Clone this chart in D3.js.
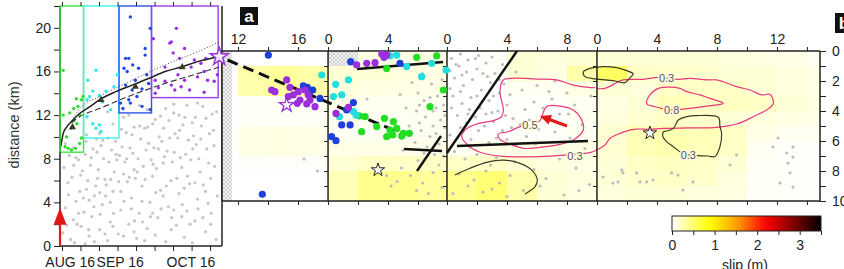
<!DOCTYPE html>
<html><head><meta charset="utf-8">
<script src="https://cdn.jsdelivr.net/npm/d3@7"></script>
<style>body{margin:0;background:#fff}svg{display:block;font-family:"Liberation Sans",Arial,sans-serif}</style>
</head><body><svg id="c" width="844" height="269"></svg>
<script>
// ---------------- DATA ----------------
const monthLabels = ["AUG 16","SEP 16","OCT 16"];
const distTicks = [0,4,8,12,16,20];
const boxStart = [0, 8.9, 22.3, 34.6];
const boxEnd = [8.9, 22.3, 34.6, 59.8];
const boxBottom = [8.6, 9.9, 12.2, 13.6];
const greyL = [[1,1.2],[2,3.5],[3,5.8],[1.5,7.2],[4,0.6],[5,2.4],[6,4.1],[4.5,6.3],[7,7.9],[8,1.8],[9,3.1],[10,5.2],[8.5,6.9],[11,0.9],[12,2.7],[13,4.6],[11.5,7.4],[14,8.6],[15,1.5],[16,3.8],[17,6.1],[15.5,9.2],[18,0.5],[19,2.2],[20,5.0],[18.5,7.7],[21,9.6],[22,1.1],[23,3.3],[24,6.6],[22.5,8.3],[25,10.4],[26,2.0],[27,4.4],[28,7.0],[26.5,9.0],[29,0.7],[30,3.0],[31,5.5],[29.5,8.0],[32,10.8],[33,1.6],[34,4.0],[35,6.4],[33.5,9.4],[36,11.6],[37,2.6],[38,5.1],[39,7.6],[37.5,10.0],[40,0.4],[41,3.6],[42,6.0],[40.5,8.7],[43,12.2],[44,1.9],[45,4.8],[46,7.2],[44.5,9.9],[47,0.8],[48,3.2],[49,5.7],[47.5,8.4],[50,11.3],[51,2.3],[52,4.3],[53,6.8],[51.5,9.3],[54,12.8],[55,1.3],[56,3.9],[57,6.2],[55.5,8.9],[58,10.6],[59,0.6],[59.5,4.6],[58.5,7.3],[6,8.1],[7.5,5.0],[9.5,8.4],[10.5,6.0],[12.5,8.9],[13.5,5.5],[14.5,7.0],[16.5,8.0],[17.5,5.6],[19.5,8.8],[20.5,6.8],[21.5,7.9],[23.5,9.1],[24.5,7.7],[25.5,5.9],[27.5,8.5],[28.5,6.2],[30.5,9.8],[31.5,7.3],[32.5,8.8],[34.5,7.9],[35.5,9.0],[36.5,7.1],[38.5,9.6],[39.5,8.2],[41.5,9.9],[42.5,7.7],[43.5,10.3],[45.5,8.1],[46.5,11.1],[48.5,9.7],[49.5,7.9],[50.5,10.1],[52.5,8.0],[53.5,11.0],[56.5,10.3],[57.5,12.1],[3.5,8.3],[2.5,1.9],[5.5,0.3],[9.5,0.2],[13,0.4],[17,1.1],[20,1.8],[24,0.9],[28,1.3],[32,0.5],[36,1.0],[42,1.5],[46,2.7],[50,0.3],[54,2.6],[57,2.0],[7,3.0],[11,4.2],[15,4.9],[19,4.0],[23,5.0],[27,3.4],[31,4.1],[35,3.0],[39,4.6],[43,3.3],[47,5.3],[51,5.8],[55,5.0],[20,11.2],[24,11.8],[28,10.9],[33,12.5],[38,11.9],[43,13.0],[48,12.9],[52,13.1],[45,12.0],
 [2,9.4],[3.2,4.7],[5.2,7.4],[6.5,2.0],[7.8,6.5],[8.8,4.4],[9.8,9.6],[10.8,1.5],[11.8,8.1],[12.8,3.6],[13.8,9.8],[14.2,6.2],[15.2,2.9],[16.2,9.7],[17.2,4.6],[18.2,9.9],[19.2,6.1],[20.2,3.0],[21.2,8.4],[22.2,5.9],[23.2,10.7],[24.2,4.1],[25.2,8.0],[26.2,6.3],[27.2,10.2],[28.2,2.3],[29.2,6.8],[30.2,11.0],[31.2,2.2],[32.2,6.1],[33.2,10.9],[34.2,2.7],[35.2,7.5],[36.2,4.9],[37.2,8.9],[38.2,3.4],[39.2,10.8],[40.2,5.5],[41.2,11.5],[42.2,2.6],[43.2,8.6],[44.2,6.2],[45.2,10.6],[46.2,3.8],[47.2,11.8],[48.2,6.4],[49.2,2.0],[50.2,8.9],[51.2,11.8],[52.2,3.4],[53.2,9.8],[54.2,5.6],[55.2,11.7],[56.2,7.6],[57.2,3.0],[58.2,9.2],[59.2,12.3],[18,12.3],[26,12.0],[30,12.9],[35,11.2],[40,12.6],[5,9.0],[10,10.2],[15,10.3]];
const greenL = [[1.9,9.1],[3.1,8.95],[4.3,8.8],[5.9,8.95],[7.4,9.4],[8.1,9.9],[2.5,10.0],[4.3,10.8],[6.4,11.2],[5.2,11.5],[7.4,12.0],[3.7,12.2],[6.8,12.8],[8.1,13.4],[5.2,12.6],[1.2,12.0],[1.2,16.1],[8.7,13.7],[6.2,13.5]];
const cyanL = [[10.5,15.2],[13.6,16.1],[12.4,14.2],[14.9,13.8],[17.4,14.2],[21.7,15.7],[11.2,13.7],[10.2,11.85],[12.4,11.2],[14.9,11.1],[15.5,10.5],[13.6,10.8],[16.1,13.2],[19.2,12.5],[20.4,14.6],[10.2,13.4]];
const blueL = [[26.6,21.0],[34.1,19.95],[32.2,18.1],[24.8,17.2],[26,17.2],[24.2,16.3],[25.4,16.0],[29.7,16.3],[28.5,15.2],[32.2,17.5],[24.8,14.75],[27.3,14.3],[31.0,14.4],[33.5,14.9],[22.9,13.1],[26,13.4],[29.1,13.7],[31,12.8],[23.8,12.6],[34.1,12.5],[26.6,13.1],[32.8,15.7],[27.5,16.6]];
const purpleL = [[44,19.95],[42.1,18.7],[41.5,18.6],[35.3,19.0],[47.1,18.1],[42.8,17.7],[45.2,17.2],[50.8,17.05],[53.3,16.75],[55.1,17.2],[49.6,16.4],[54.5,16.0],[52.0,15.5],[55.8,15.2],[58.3,15.1],[36,15.2],[37.2,14.5],[39.7,15.1],[42.1,14.75],[43.4,14.3],[45.8,14.6],[49,14.3],[47.1,15.2],[44.6,15.7],[54.5,14.1],[59.5,15.7],[39.7,16.4],[36,14.0]];
const solidCurve = [[0.3,9.1],[1.2,10.3],[2.5,10.9],[4.3,11.4],[7.4,12.15],[11.2,12.75],[14.9,13.4],[21.1,14.15],[27.3,14.75],[33.5,15.35],[39.7,16.0],[45.8,16.4],[52,16.9],[60.2,17.35]];
const dottedCurve = [[4.3,11.5],[8.1,12.75],[14.9,13.7],[27.3,15.2],[39.7,16.6],[52,17.8],[60.2,18.7]];
const dashedCurve = [[4.3,11.3],[7.4,11.85],[14.9,12.6],[27.3,13.85],[39.7,14.9],[52,15.8],[60.2,16.4]];
const triangles = [[4.7,10.9],[15.5,13.4],[28.5,14.6],[46.2,16.4]];
const junctionStar = [60.2,17.35];
const arrowL = [0, 3.5];

const segStart = [10.93, 0, 0, 0];
const segEnd = [18, 7.93, 10, 14.87];
const segLabels = [[12,16],[0,4],[0,4,8],[0,4,8,12]];
const depthLabels = [0,2,4,6,8,10];
const slipCols = [[10.93,12,14,16,18],[0,2,4,6,7.93],[0,2,4,6,8,10],[0,2,4,6,8,10,12,14,14.87]];
const slipGrid = [
 [[0,0,0,0],[0,0.3,0.35,0.3],[0,0.3,0.35,0.3],[0,0.03,0.04,0.04],[0,0.03,0.03,0.03],[0,0.08,0.1,0.08],[0,0.08,0.1,0.08],[0,0.02,0.02,0.02],[0,0,0,0],[0,0,0,0]],
 [[0,0.1,0.1,0.1],[0.15,0.15,0.12,0.1],[0.12,0.1,0.1,0.08],[0.08,0.06,0.06,0.05],[0.05,0.05,0.05,0.05],[0.05,0.05,0.05,0.05],[0.08,0.08,0.08,0.08],[0.15,0.2,0.2,0.2],[0.25,0.4,0.4,0.35],[0.25,0.4,0.4,0.35]],
 [[0,0.02,0.15,0.12,0.15],[0,0.02,0.15,0.1,0.3],[0,0,0.05,0.05,0.1],[0,0,0.02,0.02,0.05],[0,0,0.02,0.02,0.05],[0,0,0.02,0.02,0.05],[0.05,0.08,0.1,0.1,0.1],[0.2,0.2,0.15,0.12,0.1],[0.4,0.5,0.3,0.15,0.12],[0.4,0.5,0.3,0.15,0.1]],
 [[0.15,0.15,0.15,0.15,0.12,0.1,0.08,0.05],[0.55,0.2,0.18,0.18,0.15,0.15,0.12,0.1],[0.15,0.12,0.2,0.2,0.2,0.15,0.12,0.1],[0.1,0.14,0.25,0.22,0.22,0.2,0.15,0.1],[0.12,0.16,0.2,0.18,0.15,0.12,0.1,0.08],[0.16,0.26,0.28,0.25,0.2,0.08,0.05,0.05],[0.16,0.26,0.28,0.25,0.2,0.05,0.02,0.02],[0.14,0.2,0.22,0.2,0.15,0.03,0.02,0.02],[0.15,0.18,0.2,0.18,0.12,0.03,0.02,0.02],[0.12,0.15,0.15,0.12,0.1,0.03,0.02,0.02]]
];
const hatchAreas = [[1,10.93,11.6,0,10],[2,0,2,0,1]];
const greyA = [[1,17.3,8.0],[1,16.4,7.2],
 [2,5.6,2.1],[2,6.0,2.8],[2,6.4,3.3],[2,6.9,2.2],[2,7.3,3.0],[2,7.7,3.6],[2,5.9,4.0],[2,6.5,4.4],[2,7.0,4.0],[2,7.5,4.6],[2,7.8,5.1],[2,6.2,5.3],[2,6.8,5.7],[2,7.2,5.5],[2,5.8,6.1],[2,6.6,6.4],[2,7.4,6.2],[2,7.1,6.9],[2,6.3,1.5],[2,7.6,1.9],[2,5.2,3.8],[2,4.8,2.9],[2,6.0,7.3],[2,4.9,7.8],[2,5.5,8.3],[2,6.3,8.8],[2,7.0,8.1],[2,7.6,9.1],[2,4.2,9.0],[2,3.9,8.3],[2,6.7,9.5],[2,7.4,7.6],[2,2.6,3.2],[2,7.0,5.0],[2,6.1,4.8],
 [2,6.8,3.1],[2,7.2,3.8],[2,6.1,3.6],[2,7.8,4.3],[2,6.4,6.8],[2,5.4,5.0],[2,5.0,6.6],[2,7.7,7.0],[2,5.9,9.3],[2,4.6,8.7],
 [3,0.3,0.5],[3,0.8,1.0],[3,1.4,0.6],[3,2.0,1.2],[3,2.6,0.8],[3,3.2,1.5],[3,0.5,1.8],[3,1.1,2.3],[3,1.7,1.9],[3,2.3,2.6],[3,2.9,2.1],[3,3.5,2.8],[3,0.4,3.0],[3,1.0,3.5],[3,1.6,3.1],[3,2.2,3.8],[3,2.8,3.3],[3,3.4,4.0],[3,4.0,3.6],[3,4.4,4.5],[3,0.7,4.3],[3,1.3,4.8],[3,1.9,4.4],[3,2.5,5.0],[3,3.1,4.7],[3,3.7,5.3],[3,4.3,5.1],[3,4.9,4.9],[3,5.5,4.6],[3,6.1,5.2],[3,6.7,4.4],[3,5.2,3.9],[3,5.8,3.4],[3,6.4,3.8],[3,7.0,3.2],[3,7.5,4.2],[3,5.0,2.6],[3,6.0,2.3],[3,7.2,2.0],[3,8.0,2.8],[3,8.5,3.6],[3,3.8,2.2],[3,4.6,1.4],[3,0.2,5.6],[3,1.6,5.9],[3,2.8,6.1],[3,4.0,5.9],[3,5.3,5.7],[3,0.5,6.7],[3,1.2,7.2],[3,2.0,6.9],[3,3.3,7.1],[3,4.5,7.4],[3,0.8,8.2],[3,1.8,8.6],[3,2.6,8.0],[3,3.5,8.8],[3,4.2,8.3],[3,5.8,7.9],[3,6.6,8.5],[3,7.5,7.2],[3,8.6,7.8],[3,9.2,6.5],[3,9.5,8.9],[3,0.4,9.5],[3,2.4,9.4],[3,5.1,9.3],[3,7.8,9.6],[3,9.0,4.9],[3,8.2,5.8],[3,9.6,3.0],[3,0.9,0.2],[3,2.1,0.3],[3,3.7,0.9],[3,1.3,1.4],[3,2.7,1.7],[3,0.2,2.5],[3,3.0,4.1],[3,1.5,3.9],[3,3.9,4.3],[3,2.6,4.2],
 [3,0.6,0.9],[3,1.9,0.5],[3,3.0,0.4],[3,0.2,1.3],[3,1.0,1.6],[3,2.4,1.5],[3,3.5,1.9],[3,0.9,2.7],[3,2.0,3.0],[3,3.1,3.0],[3,0.3,3.8],[3,1.4,4.2],[3,2.1,5.3],[3,3.3,5.8],[3,0.9,5.1],[3,4.6,6.3],[3,5.9,6.2],[3,7.2,5.4],[3,8.1,4.2],[3,6.8,2.7],[3,4.2,2.9],[3,1.5,6.4],[3,2.9,7.6],[3,1.4,9.0],[3,3.0,9.2],[3,4.0,9.7],[3,6.2,9.0],[3,8.8,9.3],
 [4,1.65,7.93],[4,1.73,8.13],[4,1.07,8.8],[4,1.4,8.73],[4,2.65,8.13],[4,2.87,8.73],[4,3.31,8.73],[4,3.73,8.6],[4,4.98,8.13],[4,5.4,8.27],[4,5.73,9.27],[4,6.4,8.73],[4,8.87,7.6],[4,9.31,6.93],[4,11.73,6.4],[4,12.07,5.8],[4,12.2,8.8],[4,12.65,6.8],[4,12.73,7.47],[4,12.87,8.13],[4,13.07,6.4],[4,13.07,7.07],[4,13.07,9.07],[4,0.4,8.4]];
const purpleA = [[1,14.24,2.6],[1,14.46,2.71],[1,15.24,1.93],[1,15.46,2.42],[1,15.68,2.93],[1,16.02,2.71],[1,16.13,3.27],[1,16.46,2.6],[1,16.68,2.93],[1,17.13,3.71],[1,16.58,3.53],[1,15.95,3.49],[1,15.35,3.04],[1,16.8,3.27],[2,1.91,0.93],[2,2.58,0.82],[2,3.13,0.78],[2,3.58,0.2],[2,3.91,0.27],[2,3.73,0.42],[2,0.53,4.16],[2,1.36,3.76]];
const blueA = [[1,14.02,0.27],[1,13.62,9.55],[1,16.35,2.33],[1,16.62,2.42],[1,16.98,2.6],[1,17.46,3.16],[1,16.75,2.87],[2,1.51,0.71],[2,4.8,0.82],[2,1.69,3.44],[2,1.24,3.93],[2,0.91,4.93],[2,1.47,4.93],[2,0.24,5.71],[2,0.53,5.98]];
const cyanA = [[1,17.58,1.6],[2,4.58,0.27],[2,4.13,0.33],[2,5.24,1.04],[2,6.24,1.71],[2,6.91,0.82],[2,7.87,1.27],[2,0.51,2.22],[2,1.36,1.93],[2,0.36,3.04],[2,0.76,4.38],[2,1.69,4.04],[2,1.87,4.27],[2,0.91,2.93]];
const greenA = [[2,3.91,1.16],[2,5.91,0.42],[2,7.24,0.33],[2,7.69,2.6],[2,6.8,3.71],[2,2.09,4.33],[2,2.47,4.38],[2,3.76,4.49],[2,4.36,4.71],[2,4.58,5.16],[2,5.02,5.49],[2,5.42,5.49],[2,4.31,5.6],[2,3.91,5.71],[2,4.91,5.67],[2,3.24,5.04],[2,2.24,5.38],[2,4.13,5.27]];
const faultLines = [[[2,1.93,1.2],[2,7.67,0.73]],[[2,5.07,6.53],[2,7.6,6.67]],[[2,5.93,8.0],[2,7.53,5.67]],[[3,0,6.8],[3,4.67,0]],[[3,0.67,6.33],[3,9.4,6.0]]];
const dashedTrace = [[1,11.3,0.6],[1,18,3.43],[2,0,3.43],[2,5.13,5.6]];
const pinkContours = [
 [3,[[9.9,2.45],[9.42,2.42],[8.42,2.27],[7.31,1.93],[5.98,1.87],[4.42,1.82],[3.76,1.93],[3.53,2.71],[3.76,3.93],[3.64,4.38],[3.09,4.64],[1.98,4.87],[1.2,5.27],[0.98,5.71],[1.53,6.38],[2.42,6.82],[3.98,7.04],[6.2,7.04],[7.98,6.93],[9.2,6.82],[9.53,6.78],[10.0,6.6]]],
 [3,[[5.2,4.96],[4.87,5.04],[4.09,5.38],[3.42,5.53],[3.53,5.89],[4.2,6.2],[5.09,6.49],[6.2,6.42],[7.31,6.27],[8.42,5.93],[9.09,5.27],[8.98,4.6],[8.42,3.93],[7.53,3.67],[6.64,3.71],[6.2,4.64],[5.8,4.9]]],
 [4,[[0.0,2.5],[0.53,2.49],[1.76,1.93],[3.09,1.89],[4.09,1.76],[5.31,1.89],[6.2,1.82],[7.31,1.93],[7.98,1.93],[9.31,2.38],[10.2,2.6],[10.98,2.93],[11.53,2.89],[11.76,3.49],[11.31,3.93],[10.42,4.38],[9.31,4.87],[7.98,5.09],[6.2,5.13],[4.42,5.16],[3.53,5.22],[2.42,5.22],[1.53,5.49],[0.87,5.82],[0.53,6.27],[0.0,6.6]]],
 [4,[[3.42,3.6],[3.31,3.49],[3.53,2.93],[4.09,2.49],[5.53,2.49],[5.98,2.71],[6.87,2.93],[7.53,3.16],[8.42,3.49],[7.31,3.67],[6.2,3.82],[5.53,3.89],[4.98,3.93],[4.31,3.82],[3.42,3.6]]]
];
const darkContours = [
 [3,[[0.53,8.27],[1.53,7.82],[2.64,7.42],[3.76,7.27],[4.87,7.49],[5.64,7.93],[6.02,8.6],[5.87,9.04],[5.2,9.53]]],
 [4,[[-0.47,1.16],[0.42,1.04],[1.31,1.11],[1.98,1.31],[2.42,1.53],[2.16,1.82],[1.87,2.11],[1.09,1.98],[0.2,1.89],[-0.36,1.82],[-0.8,1.71],[-0.91,1.4],[-0.47,1.16]]],
 [4,[[4.42,5.38],[5.09,5.16],[5.42,4.6],[5.98,4.38],[6.64,4.31],[8.09,4.42],[8.2,5.04],[8.31,5.49],[8.2,6.38],[7.87,7.04],[7.42,7.0],[6.09,6.93],[5.53,6.71],[5.09,6.38],[4.64,6.04],[4.38,5.67],[4.42,5.38]]]
];
const contourLabels = [[3,8.53,7.0,"0.3"],[3,5.53,4.93,"0.5"],[4,4.64,1.82,"0.3"],[4,4.98,3.93,"0.8"],[4,6.09,6.93,"0.3"]];
const hypoStars = [[2,3.33,7.93],[4,3.53,5.47]];
const purpleStarA = [1,15.24,3.6];
const redArrowA = [[3,8.0,5.0],[3,6.2,4.33]];
const slipTicks = [0,1,2,3];
const slipMax = 3.5;

// ---------------- DRAW ----------------
const svg = d3.select("#c");
const defs = svg.append("defs");
const pat = defs.append("pattern").attr("id","hatch").attr("width",4).attr("height",4).attr("patternUnits","userSpaceOnUse");
pat.append("rect").attr("width",4).attr("height",4).attr("fill","#f3f3f3");
pat.append("path").attr("d","M0,0L4,4M4,0L0,4").attr("stroke","#c6c6c6").attr("stroke-width",0.8);

const slipColor = d3.scaleLinear().domain([0,0.9,1.55,2.2,2.9,3.5])
  .range(["#ffffff","#ffff00","#ff9a00","#ff0000","#780000","#000000"]).clamp(true);
const ink = "#222";

const t0 = new Date(2016,7,24,6), t1 = new Date(2016,9,24,12);
const dayDate = d => new Date(t0.getTime() + d*864e5);
const xL = d3.scaleTime().domain([t0,t1]).range([60,222]);
const yL = d3.scaleLinear().domain([0,22]).range([246,6]);
const px = d => xL(dayDate(d[0])), py = d => yL(d[1]);

const L = svg.append("g");
L.selectAll(".gl").data(greyL).join("circle").attr("cx",px).attr("cy",py).attr("r",1.6).attr("fill","#c6c6c6");
const boxColors = ["#3de63d","#3ff0f0","#2d55e6","#a03ce6"];
boxStart.forEach((s,i)=>{
  L.append("rect").attr("x",xL(dayDate(s))).attr("y",yL(22)).attr("width",xL(dayDate(boxEnd[i]))-xL(dayDate(s)))
   .attr("height",yL(boxBottom[i])-yL(22)).attr("fill","none").attr("stroke",boxColors[i]).attr("stroke-width",1.4);
});
[[greenL,"#30dd30"],[cyanL,"#30e8e8"],[blueL,"#2448e0"],[purpleL,"#9a30e0"]].forEach(([arr,c])=>{
  L.selectAll(null).data(arr).join("circle").attr("cx",px).attr("cy",py).attr("r",1.7).attr("fill",c);
});
const lineL = d3.line().x(px).y(py).curve(d3.curveMonotoneX);
L.append("path").attr("d",lineL(dottedCurve)).attr("fill","none").attr("stroke","#444").attr("stroke-width",1).attr("stroke-dasharray","1,2");
L.append("path").attr("d",lineL(dashedCurve)).attr("fill","none").attr("stroke","#333").attr("stroke-width",1.1).attr("stroke-dasharray","6,3");
L.append("path").attr("d",lineL(solidCurve)).attr("fill","none").attr("stroke","#222").attr("stroke-width",1.5);
L.selectAll(null).data(triangles).join("path").attr("d",d3.symbol(d3.symbolTriangle,22)())
  .attr("transform",d=>`translate(${px(d)},${py(d)})`).attr("fill","#3a3a25");

const weekTicks = d3.timeThursday.range(t0,t1);
const gB = L.append("g").attr("transform",`translate(0,${yL(0)})`)
  .call(d3.axisBottom(xL).tickValues(weekTicks).tickSize(5).tickFormat(""));
const gT = L.append("g").attr("transform",`translate(0,${yL(22)})`)
  .call(d3.axisTop(xL).tickValues(weekTicks).tickSize(4).tickFormat(""));
const gY = L.append("g").attr("transform",`translate(${xL(t0)},0)`)
  .call(d3.axisLeft(yL).tickValues(d3.range(0,23,2)).tickSize(6).tickPadding(3).tickFormat(d=>distTicks.includes(d)?d:""));
[gB,gT,gY].forEach(g=>{g.select(".domain").remove();g.selectAll("line").attr("stroke",ink).attr("stroke-width",1);});
gY.selectAll("text").attr("font-size",14).attr("fill",ink).attr("font-family","Liberation Sans, Arial");
const months = d3.timeMonth.range(d3.timeMonth.floor(t0), t1);
months.forEach((m,i)=>{
  const a = m < t0 ? t0 : m, b = d3.timeMonth.offset(m,1) > t1 ? t1 : d3.timeMonth.offset(m,1);
  L.append("text").attr("x",(xL(a)+xL(b))/2).attr("y",267).attr("text-anchor","middle")
   .attr("font-size",14).attr("fill",ink).text(monthLabels[i]);
});
L.append("text").attr("transform",`translate(19,${yL(11.1)}) rotate(-90)`).attr("text-anchor","middle")
  .attr("font-size",14.5).attr("fill","#333").text("distance (km)");
L.append("line").attr("x1",60).attr("x2",60).attr("y1",yL(22)).attr("y2",yL(0)).attr("stroke",ink).attr("stroke-width",1.5);
L.append("line").attr("x1",60).attr("x2",222).attr("y1",yL(0)).attr("y2",yL(0)).attr("stroke",ink).attr("stroke-width",1.5);
L.append("line").attr("x1",222).attr("x2",222).attr("y1",yL(22)).attr("y2",yL(0)).attr("stroke",ink).attr("stroke-width",1.5);
L.append("line").attr("x1",60).attr("x2",60).attr("y1",yL(22)).attr("y2",yL(boxBottom[0])).attr("stroke",boxColors[0]).attr("stroke-width",1.5);
const ax = xL(dayDate(arrowL[0]));
L.append("line").attr("x1",ax).attr("x2",ax).attr("y1",yL(0)).attr("y2",yL(arrowL[1])+14).attr("stroke","#e01818").attr("stroke-width",2.2);
L.append("path").attr("d",`M${ax-6.5},${yL(arrowL[1])+17}L${ax+6.5},${yL(arrowL[1])+17}L${ax},${yL(arrowL[1])}Z`).attr("fill","#e01818");

const pxPerKm = (820-222)/d3.sum(segEnd.map((e,i)=>e-segStart[i]));
let cum = 0;
const segX = segStart.map((s,i)=>{const x0=222+cum*pxPerKm; cum+=segEnd[i]-s; return d3.scaleLinear().domain([s,segEnd[i]]).range([x0,222+cum*pxPerKm]);});
const yD = d3.scaleLinear().domain([0,10]).range([51,201]);
const ax2 = d => segX[d[0]-1](d[1]), ay2 = d => yD(d[2]);
const A = svg.append("g");

slipGrid.forEach((rows,si)=>{
  rows.forEach((row,ri)=>{
    row.forEach((v,ci)=>{
      const x0 = segX[si](slipCols[si][ci]), x1 = segX[si](slipCols[si][ci+1]);
      A.append("rect").attr("x",x0).attr("y",yD(ri)).attr("width",x1-x0+0.4).attr("height",yD(ri+1)-yD(ri)+0.4)
       .attr("fill",slipColor(v));
    });
  });
});
hatchAreas.forEach(h=>{
  const s = segX[h[0]-1];
  A.append("rect").attr("x",s(h[1])).attr("y",yD(h[3])).attr("width",s(h[2])-s(h[1])).attr("height",yD(h[4])-yD(h[3])).attr("fill","url(#hatch)");
});
A.selectAll(".ga").data(greyA).join("circle").attr("cx",ax2).attr("cy",ay2).attr("r",1.6).attr("fill","#bdbdbd");

const cLine = si => d3.line().x(p=>segX[si-1](p[0])).y(p=>yD(p[1])).curve(d3.curveCatmullRom.alpha(0.5));
pinkContours.forEach(([si,pts])=>A.append("path").attr("d",cLine(si)(pts)).attr("fill","none").attr("stroke","#e8387e").attr("stroke-width",1.2));
darkContours.forEach(([si,pts])=>A.append("path").attr("d",cLine(si)(pts)).attr("fill","none").attr("stroke","#3c3c26").attr("stroke-width",1.2));
contourLabels.forEach(([si,a,d,t])=>{
  A.append("text").attr("x",segX[si-1](a)).attr("y",yD(d)+4).attr("text-anchor","middle").attr("font-size",11)
   .attr("fill","#555").attr("stroke","#fffbe2").attr("stroke-width",3).attr("paint-order","stroke").text(t);
});

const frame = A.append("g").attr("stroke",ink).attr("stroke-width",1.5);
frame.append("line").attr("x1",222).attr("x2",820).attr("y1",yD(0)).attr("y2",yD(0));
frame.append("line").attr("x1",222).attr("x2",820).attr("y1",yD(10)).attr("y2",yD(10));
frame.append("line").attr("x1",820).attr("x2",820).attr("y1",yD(0)).attr("y2",yD(10));
segX.forEach(s=>frame.append("line").attr("x1",s.range()[0]).attr("x2",s.range()[0]).attr("y1",yD(0)).attr("y2",yD(10)));

segX.forEach((s,i)=>{
  const tv = d3.range(Math.ceil(segStart[i]/2)*2, segEnd[i]-0.3, 2);
  const gt = A.append("g").attr("transform",`translate(0,${yD(0)})`)
    .call(d3.axisTop(s).tickValues(tv).tickSize(4).tickPadding(3).tickFormat(d=>segLabels[i].includes(d)?d:""));
  const gb = A.append("g").attr("transform",`translate(0,${yD(10)})`)
    .call(d3.axisBottom(s).tickValues(tv).tickSize(4).tickFormat(""));
  if(i>0){
    const gl = A.append("g").attr("transform",`translate(${s.range()[0]},0)`)
      .call(d3.axisLeft(yD).tickValues(d3.range(1,10)).tickSize(4).tickFormat(""));
    gl.select(".domain").remove(); gl.selectAll("line").attr("stroke",ink);
  }
  [gt,gb].forEach(g=>{g.select(".domain").remove();g.selectAll("line").attr("stroke",ink);});
  gt.selectAll("text").attr("font-size",14).attr("fill",ink).attr("font-family","Liberation Sans, Arial");
});
const gr = A.append("g").attr("transform","translate(820,0)")
  .call(d3.axisRight(yD).tickValues(d3.range(0,11,1)).tickSize(6).tickPadding(6).tickFormat(d=>depthLabels.includes(d)?d:""));
gr.select(".domain").remove(); gr.selectAll("line").attr("stroke",ink);
gr.selectAll("text").attr("font-size",14).attr("fill",ink).attr("font-family","Liberation Sans, Arial");

faultLines.forEach(fl=>A.append("line").attr("x1",ax2(fl[0])).attr("y1",ay2(fl[0])).attr("x2",ax2(fl[1])).attr("y2",ay2(fl[1]))
  .attr("stroke","#111").attr("stroke-width",2.4));
A.append("path").attr("d",d3.line().x(ax2).y(ay2)(dashedTrace)).attr("fill","none").attr("stroke","#111").attr("stroke-width",3).attr("stroke-dasharray","11,6");

[[greenA,"#22dd22"],[cyanA,"#22dede"],[blueA,"#1f3fd9"],[purpleA,"#9b2fdc"]].forEach(([arr,c])=>{
  A.selectAll(null).data(arr).join("circle").attr("cx",ax2).attr("cy",ay2).attr("r",3.6).attr("fill",c);
});

A.selectAll(null).data(hypoStars).join("path").attr("d",d3.symbol(d3.symbolStar,55)())
  .attr("transform",d=>`translate(${ax2(d)},${ay2(d)})`).attr("fill","#fff").attr("stroke","#222").attr("stroke-width",1);
A.append("path").attr("d",d3.symbol(d3.symbolStar,65)()).attr("transform",`translate(${ax2(purpleStarA)},${ay2(purpleStarA)})`)
  .attr("fill","#fff").attr("stroke","#9b2fdc").attr("stroke-width",1.3);
svg.append("path").attr("d",d3.symbol(d3.symbolStar,100)()).attr("transform",`translate(${px(junctionStar)},${py(junctionStar)})`)
  .attr("fill","#f4ecff").attr("stroke","#9b2fdc").attr("stroke-width",1.4);

const [ra0,ra1] = redArrowA;
const ang = Math.atan2(ay2(ra1)-ay2(ra0), ax2(ra1)-ax2(ra0));
const hx = ax2(ra1), hy = ay2(ra1);
A.append("line").attr("x1",ax2(ra0)).attr("y1",ay2(ra0)).attr("x2",hx-8*Math.cos(ang)).attr("y2",hy-8*Math.sin(ang))
  .attr("stroke","#e01818").attr("stroke-width",3);
A.append("path").attr("d",`M${hx},${hy}L${hx-11*Math.cos(ang)+5*Math.sin(ang)},${hy-11*Math.sin(ang)-5*Math.cos(ang)}L${hx-11*Math.cos(ang)-5*Math.sin(ang)},${hy-11*Math.sin(ang)+5*Math.cos(ang)}Z`).attr("fill","#e01818");

svg.append("rect").attr("x",240).attr("y",7).attr("width",18).attr("height",18).attr("fill","#111");
svg.append("text").attr("x",249).attr("y",22).attr("text-anchor","middle").attr("font-size",17).attr("font-weight","bold").attr("fill","#fff").text("a");
svg.append("rect").attr("x",835).attr("y",13).attr("width",18).attr("height",20).attr("fill","#111");
svg.append("text").attr("x",844).attr("y",29).attr("text-anchor","middle").attr("font-size",17).attr("font-weight","bold").attr("fill","#fff").text("b");

const cb = d3.scaleLinear().domain([0,slipMax]).range([672,821]);
const grad = defs.append("linearGradient").attr("id","slipgrad");
d3.range(0,1.0001,0.05).forEach(f=>grad.append("stop").attr("offset",f).attr("stop-color",slipColor(f*slipMax)));
svg.append("rect").attr("x",cb(0)).attr("y",216).attr("width",cb(slipMax)-cb(0)).attr("height",15).attr("fill","url(#slipgrad)").attr("stroke",ink).attr("stroke-width",1);
const gc = svg.append("g").attr("transform","translate(0,231)")
  .call(d3.axisBottom(cb).tickValues(d3.range(0,3.51,0.5)).tickSize(4).tickPadding(5).tickFormat(d=>slipTicks.includes(d)?d:""));
gc.select(".domain").remove(); gc.selectAll("line").attr("stroke",ink);
gc.selectAll("text").attr("font-size",14).attr("fill",ink).attr("font-family","Liberation Sans, Arial");
svg.append("text").attr("x",745).attr("y",270).attr("text-anchor","middle").attr("font-size",14).attr("fill",ink).text("slip (m)");
</script></body></html>
